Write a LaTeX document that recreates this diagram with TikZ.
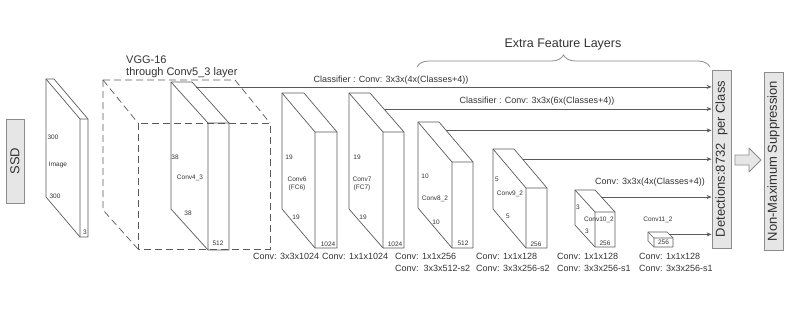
\documentclass[tikz,border=0pt]{standalone}
\usepackage{fontspec}
\setmainfont{Liberation Sans}
\usetikzlibrary{calc,arrows.meta,decorations.pathreplacing}
\definecolor{ln}{HTML}{5A5A5A}
\definecolor{tx}{HTML}{333333}
\definecolor{boxfill}{HTML}{E6E6E6}
\definecolor{boxline}{HTML}{8C8C8C}
\newcommand\slabbox[7]{%
  \coordinate (#1-ftl) at (#2,#4);
  \coordinate (#1-ftr) at (#3,#4);
  \coordinate (#1-fbr) at (#3,#5);
  \coordinate (#1-fbl) at (#2,#5);
  \coordinate (#1-btl) at ($(#1-ftl)-(#6,#7)$);
  \coordinate (#1-btr) at ($(#1-ftr)-(#6,#7)$);
  \coordinate (#1-bbl) at ($(#1-fbl)-(#6,#7)$);
  \path[slab] (#1-btl) -- (#1-btr) -- (#1-ftr) -- (#1-fbr) -- (#1-fbl) -- (#1-bbl) -- cycle;
  \path[edge] (#1-btl) -- (#1-ftl) -- (#1-ftr) (#1-ftl) -- (#1-fbl);
}
\begin{document}
\begin{tikzpicture}[x=1pt,y=-1pt,
  slab/.style={draw=ln, line width=0.7pt, fill=white, line join=round},
  edge/.style={draw=ln, line width=0.7pt, line join=round},
  vggdash/.style={draw=ln, line width=0.7pt, dash pattern=on 7pt off 4pt},
  arr/.style={draw=ln, line width=0.7pt, -{Stealth[length=5pt,width=4pt]}},
  tiny/.style={font=\fontsize{6.5}{7}\selectfont, text=tx, inner sep=0pt},
  lbl/.style={font=\fontsize{9}{10}\selectfont, text=tx, inner sep=0pt},
  big/.style={font=\fontsize{11}{12}\selectfont, text=tx, inner sep=0pt},
  sidebox/.style={draw=boxline, fill=boxfill, line width=0.8pt, minimum width=19pt, minimum height=178pt, inner sep=0pt},
  sidetext/.style={font=\fontsize{13}{14}\selectfont, text=tx, rotate=90, inner sep=0pt}
]
\useasboundingbox (0,0) rectangle (793,311);

% SSD box
\node[sidebox, minimum width=18pt, minimum height=84pt] (ssd) at (15,161) {};
\node[sidetext] (ssdt) at (ssd.center) {SSD};

% input image
\slabbox{img}{80}{88}{119}{237}{34}{40}
\node[tiny] (imga) at (53,137) {300};
\node[tiny] (imgb) at (58,165) {Image};
\node[tiny] (imgc) at (55,196) {300};
\node[tiny] (imgd) at (85,232) {3};

% Conv4_3
\slabbox{cf}{208}{229}{123}{250}{37}{41}
\node[tiny] (cfa) at (175,157) {38};
\node[tiny] (cfb) at (190,178) {Conv4\_3};
\node[tiny] (cfc) at (188,213) {38};
\node[tiny] (cfd) at (218,243) {512};

% VGG dashed cube
\coordinate (vftl) at (138,123);
\coordinate (vfbr) at (270,249);
\coordinate (vftr) at (270,123);
\coordinate (vfbl) at (138,249);
\coordinate (vbtl) at (103,80);
\coordinate (vbtr) at (235,80);
\coordinate (vbbl) at (103,210);
\path[vggdash] (vftl) rectangle (vfbr);
\path[vggdash] (vbtl) -- (vbtr) -- (vftr);
\path[vggdash] (vbtl) -- (vftl);
\path[vggdash] (vbtl) -- (vbbl) -- (vfbl);
\node[big, anchor=west] (vgga) at (126,60) {VGG-16};
\node[big, anchor=west] (vggb) at (126,73) {through Conv5\_3 layer};

% Conv6
\slabbox{csix}{315}{337}{132}{248}{33}{39}
\node[tiny] (csa) at (289,157) {19};
\node[tiny] (csb) at (297,179) {Conv6};
\node[tiny] (csc) at (297,188) {(FC6)};
\node[tiny] (csd) at (296,217) {19};
\node[tiny] (cse) at (328,244) {1024};

% Conv7
\slabbox{csev}{383}{404}{132}{248}{34}{39}
\node[tiny] (cva) at (357,157) {19};
\node[tiny] (cvb) at (362,179) {Conv7};
\node[tiny] (cvc) at (362,188) {(FC7)};
\node[tiny] (cvd) at (363,217) {19};
\node[tiny] (cve) at (395,244) {1024};

% Conv8_2
\slabbox{ceig}{452}{473}{162}{248}{34}{40}
\node[tiny] (cea) at (425,176) {10};
\node[tiny] (ceb) at (435,199) {Conv8\_2};
\node[tiny] (cec) at (436,222) {10};
\node[tiny] (ced) at (463,243) {512};

% Conv9_2
\slabbox{cnin}{526}{547}{188}{248}{33}{39}
\node[tiny] (cna) at (497,179) {5};
\node[tiny] (cnb) at (510,194) {Conv9\_2};
\node[tiny] (cnc) at (508,216) {5};
\node[tiny] (cnd) at (536,244) {256};

% Conv10_2
\slabbox{cten}{595}{615}{212}{247}{20}{22}
\node[tiny] (cta) at (578,207) {3};
\node[tiny] (ctb) at (599,220) {Conv10\_2};
\node[tiny] (ctc) at (587,231) {3};
\node[tiny] (ctd) at (605,243) {256};

% Conv11_2
\slabbox{celv}{654}{673}{238}{247}{6}{6}
\node[tiny] (cla) at (663.5,242.7) {256};
\node[tiny] (clb) at (658,220) {Conv11\_2};

% Detections and NMS
\node[sidebox] (det) at (721.5,159) {};
\node[sidetext] (dett) at (det.center) {Detections:8732~~per Class};
\node[sidebox] (nms) at (773.5,161) {};
\node[sidetext] (nmst) at (nms.center) {Non-Maximum Suppression};
\path[draw=boxline, fill=boxfill, line width=0.8pt, line join=round]
  (735,155) -- (749,155) -- (749,148) -- (761,160) -- (749,172) -- (749,165) -- (735,165) -- cycle;

% classifier arrows
\coordinate (s1) at ($(cf-btr)!0.12!(cf-ftr)$);
\coordinate (s2) at ($(csev-btr)!0.41!(csev-ftr)$);
\coordinate (s3) at ($(ceig-btr)!0.21!(ceig-ftr)$);
\coordinate (s4) at ($(cnin-btr)!0.26!(cnin-ftr)$);
\coordinate (s5) at ($(cten-btr)!0.32!(cten-ftr)$);
\coordinate (s6) at ($(celv-btr)!0.4!(celv-ftr)$);
\foreach \s in {s1,s2,s3,s4,s5,s6}{
  \draw[arr] (\s) -- (\s -| det.west);
}
\node[lbl] (cl1) at (391,80) {Classifier : Conv: 3x3x(4x(Classes+4))};
\node[lbl] (cl2) at (537,101) {Classifier : Conv: 3x3x(6x(Classes+4))};
\node[lbl] (cl3) at (650,182) {Conv: 3x3x(4x(Classes+4))};

% extra feature layers brace
\draw[draw=boxline, line width=0.8pt, decorate, decoration={brace, amplitude=12pt}] (417,67) -- (710,67);
\node[font=\fontsize{12.5}{13}\selectfont, text=tx, inner sep=0pt] (efl) at (563,44) {Extra Feature Layers};

% bottom labels
\node[lbl, anchor=west] (b1) at (253,256) {Conv: 3x3x1024};
\node[lbl, anchor=west] (b2) at (322,256) {Conv: 1x1x1024};
\node[lbl, anchor=west] (b3) at (395,256) {Conv: 1x1x256};
\node[lbl, anchor=west] (b3b) at (395,268) {Conv:~~3x3x512-s2};
\node[lbl, anchor=west] (b4) at (476,256) {Conv: 1x1x128};
\node[lbl, anchor=west] (b4b) at (476,268) {Conv: 3x3x256-s2};
\node[lbl, anchor=west] (b5) at (557,256) {Conv: 1x1x128};
\node[lbl, anchor=west] (b5b) at (557,268) {Conv: 3x3x256-s1};
\node[lbl, anchor=west] (b6) at (639,256) {Conv: 1x1x128};
\node[lbl, anchor=west] (b6b) at (639,268) {Conv: 3x3x256-s1};
\end{tikzpicture}
\end{document}
